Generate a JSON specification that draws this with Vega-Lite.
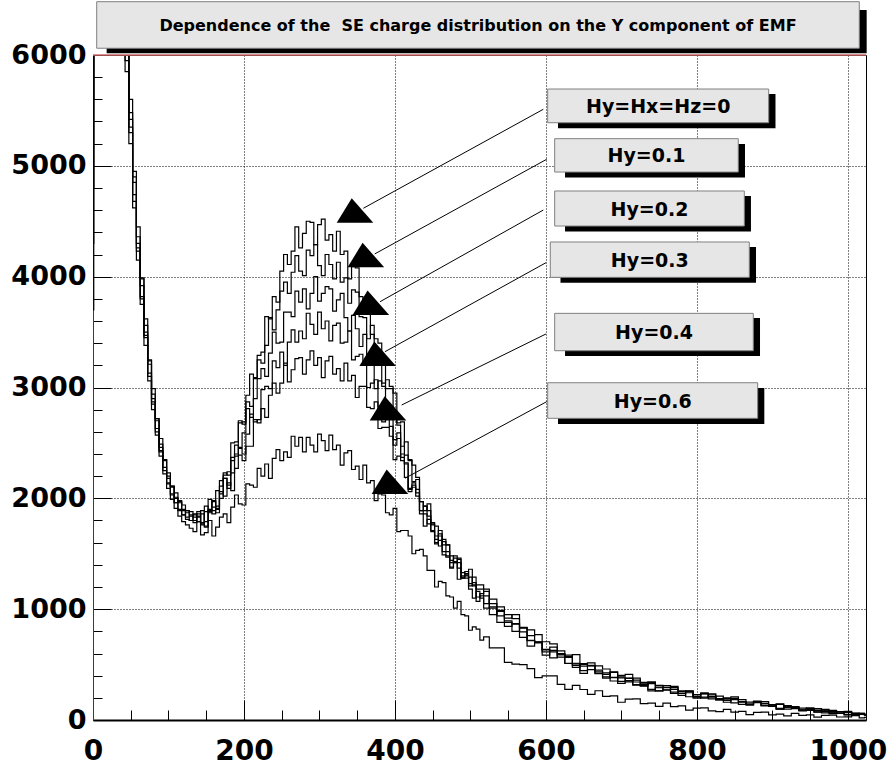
{
  "$schema": "https://vega.github.io/schema/vega-lite/v6.json",
  "width": 773,
  "height": 665,
  "autosize": "none",
  "padding": {"left": 93, "top": 55, "right": 25, "bottom": 47},
  "background": "white",
  "config": {"view": {"stroke": "black", "strokeWidth": 1}, "font": "DejaVu Sans"},
  "datasets": {
    "curves": [
      {"x":0,"a":4800,"b":5600,"c":3700,"d":6400,"e":7000,"f":4300},
      {"x":2,"a":9000,"b":9000,"c":9000,"d":9000,"e":9000,"f":9000},
      {"x":38,"a":8000,"b":8000,"c":8000,"d":8000,"e":8000,"f":8000},
      {"x":40,"a":7100,"b":7300,"c":6800,"d":7200,"e":6900,"f":6700},
      {"x":45,"a":6150,"b":6300,"c":5950,"d":6250,"e":6050,"f":5850},
      {"x":50,"a":5350,"b":5600,"c":5300,"d":5480,"e":5420,"f":5200},
      {"x":55,"a":4850,"b":4900,"c":4680,"d":4950,"e":4740,"f":4620},
      {"x":60,"a":4260,"b":4450,"c":4230,"d":4360,"e":4300,"f":4150},
      {"x":65,"a":3920,"b":3990,"c":3800,"d":3980,"e":3820,"f":3750},
      {"x":70,"a":3470,"b":3620,"c":3450,"d":3560,"e":3500,"f":3380},
      {"x":75,"a":3210,"b":3250,"c":3100,"d":3240,"e":3130,"f":3060},
      {"x":80,"a":2870,"b":2990,"c":2850,"d":2940,"e":2900,"f":2800},
      {"x":85,"a":2700,"b":2720,"c":2600,"d":2720,"e":2630,"f":2570},
      {"x":90,"a":2430,"b":2540,"c":2420,"d":2490,"e":2460,"f":2380},
      {"x":95,"a":2340,"b":2350,"c":2250,"d":2350,"e":2280,"f":2220},
      {"x":100,"a":2140,"b":2230,"c":2130,"d":2200,"e":2180,"f":2090},
      {"x":105,"a":2110,"b":2100,"c":2030,"d":2110,"e":2040,"f":1990},
      {"x":110,"a":1960,"b":2050,"c":1960,"d":2010,"e":2000,"f":1910},
      {"x":115,"a":1970,"b":1960,"c":1890,"d":1980,"e":1900,"f":1840},
      {"x":120,"a":1850,"b":1940,"c":1850,"d":1900,"e":1890,"f":1790},
      {"x":125,"a":1890,"b":1870,"c":1810,"d":1890,"e":1830,"f":1760},
      {"x":130,"a":1800,"b":1880,"c":1800,"d":1850,"e":1840,"f":1730},
      {"x":135,"a":1850,"b":1830,"c":1780,"d":1860,"e":1800,"f":1700},
      {"x":140,"a":1860,"b":1830,"c":1840,"d":1790,"e":1880,"f":1790},
      {"x":145,"a":1760,"b":1780,"c":1890,"d":1860,"e":1770,"f":1670},
      {"x":150,"a":1880,"b":1930,"c":1790,"d":1750,"e":1740,"f":1690},
      {"x":155,"a":1990,"b":1870,"c":1880,"d":1890,"e":1900,"f":1800},
      {"x":160,"a":1920,"b":1980,"c":1860,"d":1970,"e":1890,"f":1660},
      {"x":165,"a":1930,"b":1900,"c":2070,"d":1910,"e":1870,"f":1740},
      {"x":170,"a":2160,"b":2110,"c":2040,"d":2000,"e":2060,"f":1830},
      {"x":175,"a":2210,"b":2230,"c":2180,"d":2180,"e":2020,"f":1860},
      {"x":180,"a":2240,"b":2210,"c":2120,"d":2090,"e":2140,"f":1780},
      {"x":185,"a":2500,"b":2370,"c":2340,"d":2230,"e":2070,"f":1920},
      {"x":190,"a":2510,"b":2400,"c":2480,"d":2380,"e":2270,"f":2030},
      {"x":195,"a":2700,"b":2680,"c":2460,"d":2450,"e":2390,"f":1950},
      {"x":200,"a":2670,"b":2690,"c":2590,"d":2400,"e":2340,"f":1940},
      {"x":205,"a":2930,"b":2870,"c":2810,"d":2580,"e":2470,"f":2130},
      {"x":210,"a":3120,"b":2830,"c":2730,"d":2760,"e":2470,"f":2120},
      {"x":215,"a":3090,"b":3080,"c":2900,"d":2690,"e":2710,"f":2100},
      {"x":220,"a":3290,"b":3250,"c":3080,"d":2710,"e":2680,"f":2270},
      {"x":225,"a":3320,"b":3220,"c":3170,"d":2980,"e":2810,"f":2200},
      {"x":230,"a":3640,"b":3380,"c":3100,"d":3010,"e":2730,"f":2310},
      {"x":235,"a":3620,"b":3630,"c":3310,"d":2990,"e":2930,"f":2180},
      {"x":240,"a":3820,"b":3520,"c":3500,"d":3240,"e":3040,"f":2360},
      {"x":245,"a":3770,"b":3700,"c":3400,"d":3180,"e":2950,"f":2440},
      {"x":250,"a":4050,"b":3870,"c":3410,"d":3320,"e":3040,"f":2340},
      {"x":255,"a":4200,"b":3950,"c":3680,"d":3200,"e":3220,"f":2420},
      {"x":260,"a":4110,"b":3850,"c":3680,"d":3410,"e":3050,"f":2370},
      {"x":265,"a":4230,"b":4040,"c":3640,"d":3520,"e":3160,"f":2560},
      {"x":270,"a":4450,"b":4190,"c":3870,"d":3410,"e":3260,"f":2470},
      {"x":275,"a":4260,"b":4050,"c":3770,"d":3510,"e":3270,"f":2550},
      {"x":280,"a":4390,"b":4010,"c":3890,"d":3440,"e":3120,"f":2420},
      {"x":285,"a":4500,"b":4240,"c":3710,"d":3670,"e":3250,"f":2550},
      {"x":290,"a":4490,"b":4190,"c":3850,"d":3570,"e":3330,"f":2480},
      {"x":295,"a":4290,"b":4290,"c":4000,"d":3480,"e":3200,"f":2420},
      {"x":300,"a":4470,"b":4100,"c":3780,"d":3680,"e":3270,"f":2580},
      {"x":305,"a":4520,"b":4010,"c":3850,"d":3530,"e":3090,"f":2520},
      {"x":310,"a":4330,"b":4200,"c":3910,"d":3600,"e":3240,"f":2430},
      {"x":315,"a":4380,"b":4110,"c":3890,"d":3420,"e":3280,"f":2570},
      {"x":320,"a":4230,"b":3980,"c":3690,"d":3560,"e":3120,"f":2440},
      {"x":325,"a":4410,"b":4130,"c":3790,"d":3580,"e":3170,"f":2480},
      {"x":330,"a":4200,"b":3950,"c":3850,"d":3400,"e":3060,"f":2300},
      {"x":335,"a":4230,"b":3990,"c":3630,"d":3410,"e":3220,"f":2410},
      {"x":340,"a":3980,"b":3760,"c":3510,"d":3510,"e":3060,"f":2430},
      {"x":345,"a":4090,"b":3880,"c":3650,"d":3250,"e":3110,"f":2260},
      {"x":350,"a":4080,"b":3860,"c":3530,"d":3280,"e":2910,"f":2290},
      {"x":355,"a":3820,"b":3640,"c":3370,"d":3300,"e":3010,"f":2170},
      {"x":360,"a":3770,"b":3630,"c":3480,"d":3230,"e":3010,"f":2300},
      {"x":365,"a":3810,"b":3440,"c":3260,"d":3000,"e":2820,"f":2140},
      {"x":370,"a":3480,"b":3560,"c":3260,"d":3040,"e":2810,"f":2160},
      {"x":375,"a":3440,"b":3330,"c":2990,"d":3070,"e":2870,"f":1980},
      {"x":380,"a":3400,"b":3310,"c":3060,"d":2830,"e":2630,"f":2040},
      {"x":385,"a":3270,"b":3040,"c":3010,"d":2690,"e":2640,"f":2030},
      {"x":390,"a":2990,"b":3070,"c":2770,"d":2780,"e":2640,"f":1870},
      {"x":395,"a":2990,"b":3010,"c":2720,"d":2650,"e":2560,"f":1850},
      {"x":400,"a":2950,"b":2750,"c":2530,"d":2480,"e":2350,"f":1910},
      {"x":405,"a":2660,"b":2680,"c":2590,"d":2540,"e":2380,"f":1700},
      {"x":410,"a":2470,"b":2690,"c":2370,"d":2340,"e":2400,"f":1710},
      {"x":415,"a":2510,"b":2390,"c":2320,"d":2310,"e":2190,"f":1710},
      {"x":420,"a":2340,"b":2350,"c":2090,"d":2080,"e":2060,"f":1660},
      {"x":425,"a":2150,"b":2300,"c":2100,"d":2120,"e":2140,"f":1500},
      {"x":430,"a":2170,"b":2190,"c":2050,"d":2080,"e":2020,"f":1530},
      {"x":435,"a":1970,"b":1970,"c":1860,"d":1890,"e":1890,"f":1540},
      {"x":440,"a":1930,"b":1890,"c":1750,"d":1860,"e":1930,"f":1480},
      {"x":445,"a":1890,"b":1950,"c":1810,"d":1840,"e":1770,"f":1350},
      {"x":450,"a":1700,"b":1780,"c":1710,"d":1770,"e":1760,"f":1350},
      {"x":455,"a":1660,"b":1750,"c":1590,"d":1600,"e":1630,"f":1200},
      {"x":460,"a":1680,"b":1570,"c":1660,"d":1620,"e":1710,"f":1250},
      {"x":465,"a":1490,"b":1610,"c":1520,"d":1630,"e":1580,"f":1240},
      {"x":470,"a":1480,"b":1580,"c":1520,"d":1470,"e":1580,"f":1120},
      {"x":475,"a":1480,"b":1440,"c":1370,"d":1380,"e":1420,"f":1110},
      {"x":480,"a":1420,"b":1420,"c":1430,"d":1460,"e":1480,"f":1010},
      {"x":485,"a":1270,"b":1450,"c":1420,"d":1370,"e":1460,"f":1070},
      {"x":490,"a":1300,"b":1280,"c":1290,"d":1280,"e":1330,"f":950},
      {"x":495,"a":1310,"b":1280,"c":1300,"d":1340,"e":1320,"f":940},
      {"x":500,"a":1180,"b":1290,"c":1210,"d":1230,"e":1360,"f":810},
      {"x":505,"a":1100,"b":1240,"c":1290,"d":1210,"e":1220,"f":840},
      {"x":510,"a":1160,"b":1110,"c":1180,"d":1070,"e":1220,"f":820},
      {"x":515,"a":1100,"b":1140,"c":1180,"d":1120,"e":1220,"f":720},
      {"x":520,"a":1010,"b":1160,"c":1050,"d":1120,"e":1180,"f":750},
      {"x":530,"a":1020,"b":1010,"c":1090,"d":950,"e":1050,"f":650},
      {"x":540,"a":880,"b":990,"c":940,"d":980,"e":1020,"f":650},
      {"x":550,"a":880,"b":845,"c":950,"d":895,"e":920,"f":520},
      {"x":560,"a":870,"b":865,"c":915,"d":800,"e":950,"f":505},
      {"x":570,"a":745,"b":836,"c":795,"d":828,"e":834,"f":500},
      {"x":580,"a":666,"b":717,"c":761,"d":718,"e":814,"f":464},
      {"x":590,"a":702,"b":701,"c":770,"d":704,"e":695,"f":382},
      {"x":600,"a":632,"b":615,"c":637,"d":585,"e":706,"f":399},
      {"x":610,"a":560,"b":658,"c":629,"d":614,"e":686,"f":399},
      {"x":620,"a":595,"b":568,"c":624,"d":599,"e":587,"f":321},
      {"x":630,"a":512,"b":565,"c":585,"d":510,"e":571,"f":276},
      {"x":640,"a":512,"b":475,"c":493,"d":506,"e":590,"f":313},
      {"x":650,"a":421,"b":501,"c":509,"d":445,"e":486,"f":275},
      {"x":660,"a":455,"b":494,"c":516,"d":491,"e":487,"f":231},
      {"x":670,"a":450,"b":419,"c":434,"d":422,"e":489,"f":264},
      {"x":680,"a":378,"b":411,"c":390,"d":426,"e":460,"f":213},
      {"x":690,"a":381,"b":435,"c":429,"d":352,"e":385,"f":218},
      {"x":700,"a":331,"b":348,"c":390,"d":380,"e":403,"f":160},
      {"x":710,"a":375,"b":355,"c":344,"d":377,"e":411,"f":188},
      {"x":720,"a":319,"b":360,"c":378,"d":314,"e":343,"f":190},
      {"x":730,"a":326,"b":340,"c":322,"d":311,"e":306,"f":147},
      {"x":740,"a":263,"b":277,"c":329,"d":337,"e":345,"f":152},
      {"x":750,"a":291,"b":297,"c":263,"d":263,"e":312,"f":123},
      {"x":760,"a":291,"b":310,"c":294,"d":270,"e":273,"f":153},
      {"x":770,"a":239,"b":251,"c":292,"d":277,"e":303,"f":121},
      {"x":780,"a":238,"b":221,"c":242,"d":263,"e":257,"f":127},
      {"x":790,"a":260,"b":256,"c":246,"d":210,"e":264,"f":90},
      {"x":800,"a":198,"b":230,"c":211,"d":227,"e":207,"f":108},
      {"x":810,"a":206,"b":198,"c":246,"d":238,"e":235,"f":110},
      {"x":820,"a":214,"b":228,"c":206,"d":190,"e":236,"f":82},
      {"x":830,"a":194,"b":183,"c":182,"d":215,"e":184,"f":75},
      {"x":840,"a":194,"b":160,"c":188,"d":176,"e":199,"f":96},
      {"x":850,"a":154,"b":190,"c":195,"d":183,"e":209,"f":71},
      {"x":860,"a":160,"b":167,"c":183,"d":141,"e":165,"f":78},
      {"x":870,"a":133,"b":142,"c":142,"d":162,"e":143,"f":49},
      {"x":880,"a":163,"b":167,"c":157,"d":163,"e":170,"f":68},
      {"x":890,"a":131,"b":134,"c":165,"d":127,"e":150,"f":71},
      {"x":900,"a":135,"b":138,"c":125,"d":124,"e":124,"f":47},
      {"x":910,"a":98,"b":98,"c":104,"d":141,"e":146,"f":53},
      {"x":920,"a":116,"b":119,"c":130,"d":98,"e":116,"f":38},
      {"x":930,"a":116,"b":119,"c":111,"d":103,"e":119,"f":60},
      {"x":940,"a":86,"b":89,"c":91,"d":108,"e":83,"f":41},
      {"x":950,"a":87,"b":93,"c":110,"d":100,"e":102,"f":47},
      {"x":960,"a":100,"b":73,"c":84,"d":71,"e":102,"f":26},
      {"x":970,"a":65,"b":95,"c":88,"d":82,"e":76,"f":41},
      {"x":980,"a":70,"b":71,"c":58,"d":86,"e":78,"f":44},
      {"x":990,"a":74,"b":75,"c":72,"d":59,"e":59,"f":27},
      {"x":1000,"a":66,"b":48,"c":72,"d":46,"e":77,"f":29},
      {"x":1010,"a":42,"b":60,"c":50,"d":63,"e":56,"f":40},
      {"x":1020,"a":51,"b":61,"c":52,"d":51,"e":60,"f":19},
      {"x":1024,"a":46,"b":44,"c":50,"d":47,"e":52,"f":24}
    ],
    "shadows": [
      {"x":18.1,"x2":1024.9,"y":6015,"y2":6406},
      {"x":616.0,"x2":904.1,"y":5339,"y2":5648},
      {"x":625.3,"x2":863.7,"y":4895,"y2":5197},
      {"x":625.3,"x2":871.6,"y":4408,"y2":4728},
      {"x":619.3,"x2":878.3,"y":3946,"y2":4268},
      {"x":625.3,"x2":883.6,"y":3284,"y2":3627},
      {"x":616.0,"x2":889.3,"y":2671,"y2":2996}
    ],
    "boxes": [
      {"x":4.9,"x2":1015.1,"y":6061,"y2":6481},
      {"x":602.3,"x2":895.1,"y":5389,"y2":5693},
      {"x":611.6,"x2":854.8,"y":4944,"y2":5245},
      {"x":611.6,"x2":862.8,"y":4457,"y2":4773},
      {"x":605.8,"x2":869.4,"y":3994,"y2":4313},
      {"x":611.6,"x2":874.7,"y":3332,"y2":3669},
      {"x":602.3,"x2":880.5,"y":2722,"y2":3043}
    ],
    "labels": [
      {"label":"Hy=Hx=Hz=0","x":748.7,"y":5541},
      {"label":"Hy=0.1","x":733.2,"y":5094},
      {"label":"Hy=0.2","x":737.2,"y":4615},
      {"label":"Hy=0.3","x":737.6,"y":4153},
      {"label":"Hy=0.4","x":743.2,"y":3500},
      {"label":"Hy=0.6","x":741.4,"y":2882}
    ],
    "heading": [
      {"label":"Dependence of the \u00a0SE charge distribution on the Y component of EMF","x":510,"y":6271}
    ],
    "arrows": [
      {"x":596.5,"y":5510,"x2":358.1,"y2":4617},
      {"x":601.0,"y":5059,"x2":373.2,"y2":4205},
      {"x":596.5,"y":4601,"x2":380.2,"y2":3774},
      {"x":600.1,"y":4126,"x2":386.8,"y2":3323},
      {"x":600.1,"y":3483,"x2":408.9,"y2":2842},
      {"x":601.0,"y":2872,"x2":413.3,"y2":2181}
    ],
    "heads": [
      {"x":347.1,"y":4597},
      {"x":361.5,"y":4195},
      {"x":368.1,"y":3765},
      {"x":377.1,"y":3305},
      {"x":390.8,"y":2812},
      {"x":393.4,"y":2150}
    ]
  },
  "layer": [
    {
      "data": {"name": "curves"},
      "transform": [{"fold": ["a","b","c","d","e","f"], "as": ["series","count"]}],
      "mark": {"type": "line", "interpolate": "step", "clip": true, "strokeWidth": 1.2, "color": "black"},
      "encoding": {
        "x": {
          "field": "x", "type": "quantitative",
          "scale": {"domain": [0,1024], "nice": false, "zero": false},
          "axis": {
            "title": null,
            "values": [0,50,100,150,200,250,300,350,400,450,500,550,600,650,700,750,800,850,900,950,1000],
            "tickCount": 100,
            "format": "d",
            "labelExpr": "datum.value % 200 === 0 ? datum.label : ''",
            "labelFont": "DejaVu Sans", "labelFontWeight": "bold", "labelFontSize": 28, "labelColor": "black",
            "labelPadding": 37, "labelBaseline": "top", "labelFlush": false, "labelOverlap": false,
            "tickSize": {"condition": {"test": "datum.value % 200 === 0", "value": -20}, "value": -10},
            "tickColor": "black", "tickWidth": 1,
            "domainColor": "black", "domainWidth": 2,
            "grid": true, "gridColor": "black", "gridDash": [1,2], "gridWidth": 1,
            "gridOpacity": {"condition": {"test": "datum.value % 200 === 0 && datum.value > 0", "value": 1}, "value": 0}
          }
        },
        "y": {
          "field": "count", "type": "quantitative",
          "scale": {"domain": [0,6000], "nice": false},
          "axis": {
            "title": null,
            "values": [0,200,400,600,800,1000,1200,1400,1600,1800,2000,2200,2400,2600,2800,3000,3200,3400,3600,3800,4000,4200,4400,4600,4800,5000,5200,5400,5600,5800,6000],
            "tickCount": 100,
            "format": "d",
            "labelExpr": "datum.value % 1000 === 0 ? datum.label : ''",
            "labelFont": "DejaVu Sans", "labelFontWeight": "bold", "labelFontSize": 27, "labelColor": "black",
            "labelPadding": 25, "labelFlush": false, "labelOverlap": false,
            "tickSize": {"condition": {"test": "datum.value % 1000 === 0", "value": -18}, "value": -9},
            "tickColor": "black", "tickWidth": 1,
            "domainColor": "#8b1a1a", "domainWidth": 1,
            "grid": true, "gridColor": "black", "gridDash": [1,2], "gridWidth": 1,
            "gridOpacity": {"condition": {"test": "datum.value % 1000 === 0 && datum.value > 0 && datum.value < 6000", "value": 1}, "value": 0}
          }
        },
        "detail": {"field": "series"}
      }
    },
    {
      "data": {"values": [{}]},
      "mark": {"type": "rule", "color": "#d06868", "strokeWidth": 1.5},
      "encoding": {"y": {"datum": 6000}}
    },
    {
      "data": {"name": "arrows"},
      "mark": {"type": "rule", "color": "black", "strokeWidth": 1},
      "encoding": {
        "x": {"field": "x", "type": "quantitative"},
        "y": {"field": "y", "type": "quantitative"},
        "x2": {"field": "x2"},
        "y2": {"field": "y2"}
      }
    },
    {
      "data": {"name": "heads"},
      "mark": {"type": "point", "shape": "M-0.18,-0.667L-1,0.667L1,0.667Z", "size": 1340, "filled": true, "color": "black", "opacity": 1, "strokeWidth": 0},
      "encoding": {
        "x": {"field": "x", "type": "quantitative"},
        "y": {"field": "y", "type": "quantitative"}
      }
    },
    {
      "data": {"name": "shadows"},
      "mark": {"type": "rect", "color": "black"},
      "encoding": {
        "x": {"field": "x", "type": "quantitative"},
        "x2": {"field": "x2"},
        "y": {"field": "y", "type": "quantitative"},
        "y2": {"field": "y2"}
      }
    },
    {
      "data": {"name": "boxes"},
      "mark": {"type": "rect", "fill": "#e6e6e6", "stroke": "#808080", "strokeWidth": 1},
      "encoding": {
        "x": {"field": "x", "type": "quantitative"},
        "x2": {"field": "x2"},
        "y": {"field": "y", "type": "quantitative"},
        "y2": {"field": "y2"}
      }
    },
    {
      "data": {"name": "labels"},
      "mark": {"type": "text", "font": "DejaVu Sans", "fontWeight": "bold", "fontSize": 19, "color": "black", "align": "center", "baseline": "middle", "dy": 1},
      "encoding": {
        "x": {"field": "x", "type": "quantitative"},
        "y": {"field": "y", "type": "quantitative"},
        "text": {"field": "label"}
      }
    },
    {
      "data": {"name": "heading"},
      "mark": {"type": "text", "font": "DejaVu Sans", "fontWeight": "bold", "fontSize": 16, "color": "black", "align": "center", "baseline": "middle", "dy": 1},
      "encoding": {
        "x": {"field": "x", "type": "quantitative"},
        "y": {"field": "y", "type": "quantitative"},
        "text": {"field": "label"}
      }
    }
  ]
}
